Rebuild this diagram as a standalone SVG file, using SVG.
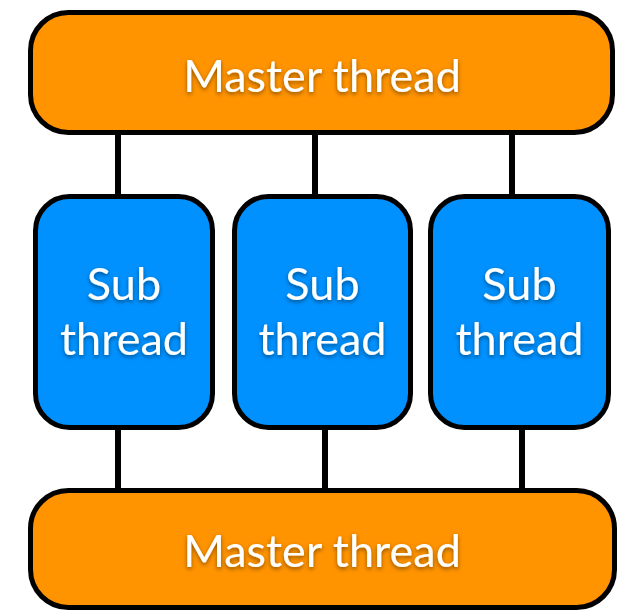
<svg xmlns="http://www.w3.org/2000/svg" width="621" height="611" viewBox="0 0 621 611">
  <defs>
    <filter id="txtShadow" x="-10%" y="-30%" width="120%" height="160%">
      <feDropShadow dx="0" dy="2" stdDeviation="2" flood-color="#000" flood-opacity="0.45"/>
    </filter>
  </defs>
  <style>
    .master { fill: #FF9300; stroke: #000; stroke-width: 5; }
    .sub { fill: #0091FF; stroke: #000; stroke-width: 5; }
    .link { stroke: #000; stroke-width: 6; fill: none; }
    .label { font-family: "Lato", "Open Sans", "Liberation Sans", sans-serif; font-size: 45px; fill: #fff; text-anchor: middle; filter: url(#txtShadow); }
  </style>

  <!-- connectors -->
  <g id="connectors">
    <line class="link" x1="118" y1="133" x2="118" y2="196"/>
    <line class="link" x1="315" y1="133" x2="315" y2="196"/>
    <line class="link" x1="512" y1="133" x2="512" y2="196"/>
    <line class="link" x1="118" y1="428" x2="118" y2="491"/>
    <line class="link" x1="325" y1="428" x2="325" y2="491"/>
    <line class="link" x1="522" y1="428" x2="522" y2="491"/>
  </g>

  <g id="master-top">
    <rect class="master" x="30.5" y="12.5" width="582" height="120" rx="38" ry="38"/>
    <text class="label" x="322" y="92">Master thread</text>
  </g>

  <g id="sub-1">
    <rect class="sub" x="35.5" y="196.5" width="177" height="231" rx="34" ry="34"/>
    <text class="label" x="124" y="300">Sub</text>
    <text class="label" x="124" y="355">thread</text>
  </g>

  <g id="sub-2">
    <rect class="sub" x="234.5" y="196.5" width="176" height="231" rx="34" ry="34"/>
    <text class="label" x="322.5" y="300">Sub</text>
    <text class="label" x="322.5" y="355">thread</text>
  </g>

  <g id="sub-3">
    <rect class="sub" x="430.5" y="196.5" width="178" height="231" rx="34" ry="34"/>
    <text class="label" x="519.5" y="300">Sub</text>
    <text class="label" x="519.5" y="355">thread</text>
  </g>

  <g id="master-bottom">
    <rect class="master" x="30.5" y="490.5" width="584" height="117" rx="38" ry="38"/>
    <text class="label" x="322" y="567">Master thread</text>
  </g>
</svg>
